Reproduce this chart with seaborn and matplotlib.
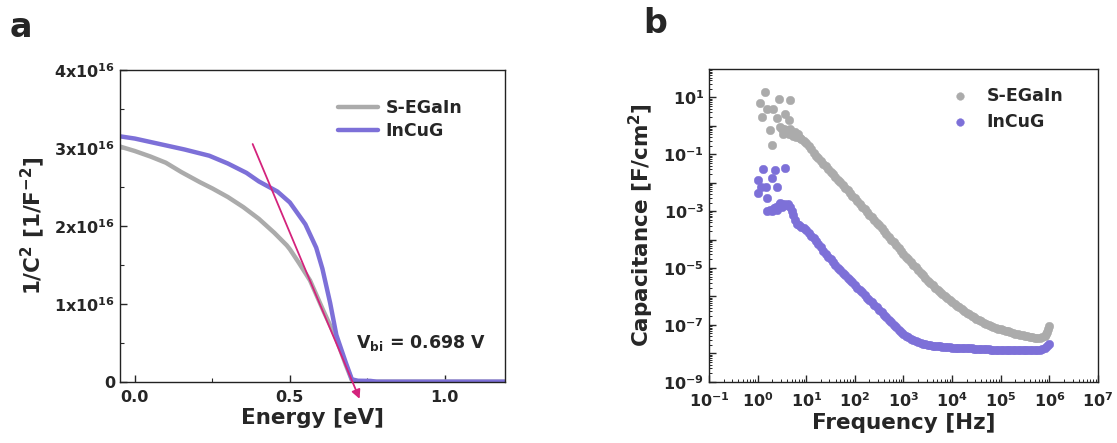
import numpy as np
import pandas as pd
import matplotlib
matplotlib.use("Agg")
import matplotlib.pyplot as plt
import seaborn as sns
from matplotlib.ticker import MultipleLocator, FixedLocator, FuncFormatter, LogLocator, NullFormatter

# ---------------- data: panel a (Mott-Schottky) ----------------
energy_segain = [-0.05, 0.0, 0.05, 0.10, 0.15, 0.21, 0.25, 0.30, 0.35, 0.40, 0.45, 0.49, 0.50,
                 0.53, 0.565, 0.607, 0.65, 0.68, 0.70, 0.72, 0.80, 1.0, 1.2]
invc2_segain = [3.02, 2.96, 2.89, 2.81, 2.69, 2.56, 2.48, 2.37, 2.24, 2.09, 1.91, 1.75, 1.70,
                1.52, 1.30, 0.92, 0.55, 0.22, 0.02, 0.0, 0.0, 0.0, 0.0]
energy_incug = [-0.05, 0.0, 0.08, 0.16, 0.24, 0.30, 0.36, 0.40, 0.46, 0.50, 0.55, 0.585, 0.605,
                0.63, 0.65, 0.68, 0.70, 0.72, 0.76, 0.78, 1.0, 1.2]
invc2_incug = [3.15, 3.12, 3.05, 2.98, 2.90, 2.80, 2.68, 2.57, 2.44, 2.30, 2.02, 1.72, 1.45,
               1.01, 0.60, 0.25, 0.03, 0.012, 0.01, 0.0, 0.0, 0.0]
invc2_scale = 1e16
tangent_x = [0.38, 0.725]
tangent_y = [3.05, -0.22]
vbi_text = r"V$_{\mathregular{bi}}$ = 0.698 V"

# ---------------- data: panel b (C-f), log10 values ----------------
logf_segain = [0.05, 0.09, 0.15, 0.19, 0.32, 0.39, 0.43, 0.56, 0.64, 0.67, 0.26, 0.29,
               0.46, 0.50, 0.52, 0.55, 0.58, 0.62, 0.65, 0.67, 0.70, 0.73, 0.76, 0.78, 0.80, 0.84, 0.87,
               0.90, 0.95, 1.00, 1.05, 1.10, 1.15, 1.20, 1.25, 1.30, 1.35, 1.40, 1.45, 1.50, 1.55,
               1.60, 1.65, 1.70, 1.75, 1.80, 1.85, 1.90, 1.95, 2.00, 2.05, 2.10, 2.15, 2.20, 2.25,
               2.30, 2.35, 2.40, 2.45, 2.50, 2.55, 2.60, 2.65, 2.70, 2.75, 2.80, 2.85, 2.90, 2.95,
               3.00, 3.05, 3.10, 3.15, 3.20, 3.25, 3.30, 3.35, 3.40, 3.45, 3.50, 3.55, 3.60, 3.65,
               3.70, 3.75, 3.80, 3.85, 3.90, 3.95, 4.00, 4.05, 4.10, 4.15, 4.20, 4.25, 4.30, 4.35,
               4.40, 4.45, 4.50, 4.55, 4.60, 4.65, 4.70, 4.75, 4.80, 4.85, 4.90, 4.95, 5.00, 5.05,
               5.10, 5.15, 5.20, 5.25, 5.30, 5.35, 5.40, 5.45, 5.50, 5.55, 5.60, 5.65, 5.70, 5.75,
               5.80, 5.85, 5.90, 5.93, 5.96, 5.98, 6.00]
logc_segain = [0.79, 0.30, 1.19, 0.60, 0.58, 0.28, 0.95, 0.43, 0.20, 0.90, -0.15, -0.66,
               -0.05, -0.12, -0.30, -0.10, -0.22, -0.15, -0.28, -0.12, -0.25, -0.35, -0.20, -0.30, -0.40, -0.30, -0.42,
               -0.45, -0.53, -0.62, -0.72, -0.83, -0.94, -1.05, -1.14, -1.24, -1.33, -1.42, -1.52, -1.61, -1.71,
               -1.80, -1.90, -1.99, -2.09, -2.18, -2.27, -2.36, -2.46, -2.55, -2.65, -2.74, -2.84, -2.93, -3.03,
               -3.12, -3.22, -3.31, -3.41, -3.50, -3.60, -3.70, -3.80, -3.90, -4.00, -4.10, -4.20, -4.30, -4.40,
               -4.50, -4.60, -4.69, -4.79, -4.88, -4.98, -5.07, -5.17, -5.26, -5.36, -5.45, -5.53, -5.61, -5.69,
               -5.76, -5.84, -5.91, -5.98, -6.05, -6.12, -6.20, -6.26, -6.33, -6.39, -6.45, -6.51, -6.57, -6.63,
               -6.69, -6.74, -6.80, -6.84, -6.88, -6.92, -6.96, -7.00, -7.04, -7.07, -7.10, -7.13, -7.15, -7.18,
               -7.21, -7.23, -7.26, -7.28, -7.31, -7.33, -7.35, -7.37, -7.39, -7.41, -7.43, -7.44, -7.45, -7.46,
               -7.46, -7.43, -7.38, -7.32, -7.24, -7.16, -7.04]

logf_incug = [0.12, 0.36, 0.56, 0.015, 0.29, 0.08, 0.17, 0.39, 0.0, 0.19,
              0.20, 0.25, 0.30, 0.33, 0.37, 0.40, 0.44, 0.47, 0.50, 0.55, 0.58, 0.62, 0.66, 0.70, 0.73, 0.77, 0.82,
              0.85, 0.90, 0.95, 1.00, 1.05, 1.10, 1.15, 1.20, 1.25, 1.30,
              1.35, 1.40, 1.45, 1.50, 1.55, 1.60, 1.65, 1.70, 1.75, 1.80,
              1.85, 1.90, 1.95, 2.00, 2.05, 2.10, 2.15, 2.20, 2.25, 2.30,
              2.35, 2.40, 2.45, 2.50, 2.55, 2.60, 2.65, 2.70, 2.75, 2.80,
              2.85, 2.90, 2.95, 3.00, 3.05, 3.10, 3.15, 3.20, 3.25, 3.30,
              3.35, 3.40, 3.45, 3.50, 3.55, 3.60, 3.65, 3.70, 3.75, 3.80,
              3.85, 3.90, 3.95, 4.00, 4.05, 4.10, 4.15, 4.20, 4.25, 4.30,
              4.35, 4.40, 4.45, 4.50, 4.55, 4.60, 4.65, 4.70, 4.75, 4.80,
              4.85, 4.90, 4.95, 5.00, 5.05, 5.10, 5.15, 5.20, 5.25, 5.30,
              5.35, 5.40, 5.45, 5.50, 5.55, 5.60, 5.65, 5.70, 5.75, 5.80,
              5.85, 5.90, 5.95, 6.00]
logc_incug = [-1.53, -1.55, -1.47, -1.90, -1.82, -2.16, -2.14, -2.16, -2.35, -2.55,
              -3.00, -2.95, -2.98, -2.90, -2.85, -2.95, -2.80, -2.72, -2.85, -2.75, -2.80, -2.76, -2.85, -3.00, -3.15, -3.30, -3.45,
              -3.50, -3.55, -3.61, -3.68, -3.77, -3.86, -3.95, -4.05, -4.16, -4.27,
              -4.39, -4.50, -4.60, -4.70, -4.80, -4.90, -4.99, -5.08, -5.16, -5.25,
              -5.34, -5.43, -5.51, -5.60, -5.69, -5.78, -5.86, -5.95, -6.04, -6.13,
              -6.21, -6.30, -6.39, -6.48, -6.56, -6.65, -6.74, -6.83, -6.91, -7.00,
              -7.09, -7.17, -7.25, -7.33, -7.39, -7.44, -7.49, -7.53, -7.57, -7.60,
              -7.63, -7.66, -7.68, -7.70, -7.72, -7.73, -7.74, -7.75, -7.76, -7.77,
              -7.78, -7.79, -7.79, -7.80, -7.80, -7.81, -7.81, -7.82, -7.82, -7.83,
              -7.83, -7.83, -7.84, -7.84, -7.84, -7.85, -7.85, -7.86, -7.86, -7.87,
              -7.87, -7.87, -7.87, -7.88, -7.88, -7.88, -7.88, -7.89, -7.89, -7.89,
              -7.89, -7.90, -7.90, -7.90, -7.90, -7.90, -7.90, -7.89, -7.89, -7.88,
              -7.86, -7.82, -7.76, -7.67]

series_names = ["S-EGaIn", "InCuG"]
col_gray = "#ababab"
col_purple = "#7d70d8"
col_magenta = "#d4237c"

# ---------------- style ----------------
sns.set_style("ticks")
plt.rcParams.update({
    "font.family": ["DejaVu Sans"],
    "font.weight": "bold",
    "axes.labelweight": "bold",
    "mathtext.fontset": "dejavusans",
    "mathtext.default": "bf",
    "xtick.direction": "in",
    "ytick.direction": "in",
    "axes.linewidth": 1.0,
    "axes.edgecolor": "#222222",
})

fig = plt.figure(figsize=(11.17, 4.43), dpi=100)
ax1 = fig.add_axes([0.1074, 0.1384, 0.3447, 0.7036])
ax2 = fig.add_axes([0.6347, 0.1384, 0.3483, 0.7059])

# ---------------- panel a ----------------
df_a1 = pd.DataFrame({"E": energy_segain, "y": np.array(invc2_segain) * invc2_scale})
df_a2 = pd.DataFrame({"E": energy_incug, "y": np.array(invc2_incug) * invc2_scale})
sns.lineplot(data=df_a1, x="E", y="y", ax=ax1, color=col_gray, lw=3.2, label=series_names[0])
sns.lineplot(data=df_a2, x="E", y="y", ax=ax1, color=col_purple, lw=3.2, label=series_names[1])
ax1.annotate("", xy=(tangent_x[1], tangent_y[1] * invc2_scale),
             xytext=(tangent_x[0], tangent_y[0] * invc2_scale),
             arrowprops=dict(arrowstyle="-|>", color=col_magenta, lw=1.3, mutation_scale=13,
                             shrinkA=0, shrinkB=0),
             annotation_clip=False)
ax1.text(0.713, 0.5 * invc2_scale, vbi_text, fontsize=12.5, fontweight="bold", va="center", ha="left")

ax1.set_xlim(-0.048, 1.194)
ax1.set_ylim(0, 4e16)
ax1.xaxis.set_major_locator(FixedLocator([0.0, 0.5, 1.0]))
ax1.xaxis.set_minor_locator(FixedLocator([0.25, 0.75]))
ax1.xaxis.set_major_formatter(FuncFormatter(lambda v, p: f"{v:.1f}"))
ax1.yaxis.set_major_locator(MultipleLocator(1e16))
ax1.yaxis.set_minor_locator(MultipleLocator(0.5e16))
ax1.yaxis.set_major_formatter(FuncFormatter(
    lambda v, p: "0" if abs(v) < 1 else f"{int(round(v / 1e16))}x10$^{{16}}$"))
ax1.set_xlabel("Energy [eV]", fontsize=15.5, labelpad=2)
ax1.set_ylabel(r"1/C$^2$ [1/F$^{-2}$]", fontsize=15.5, labelpad=5)
ax1.tick_params(axis="both", which="major", labelsize=11.5, length=5, width=1)
ax1.tick_params(axis="x", which="major", pad=6)
ax1.tick_params(axis="both", which="minor", length=3, width=0.8)
ax1.legend(frameon=False, loc="upper left", bbox_to_anchor=(0.548, 0.93), borderaxespad=0,
           handlelength=2.3, handletextpad=0.45, labelspacing=0.3,
           prop={"weight": "bold", "size": 12.5})

# ---------------- panel b ----------------
df_b1 = pd.DataFrame({"f": 10.0 ** np.array(logf_segain), "C": 10.0 ** np.array(logc_segain)})
df_b2 = pd.DataFrame({"f": 10.0 ** np.array(logf_incug), "C": 10.0 ** np.array(logc_incug)})
sns.scatterplot(data=df_b1, x="f", y="C", ax=ax2, color=col_gray, s=38, edgecolor=col_gray,
                linewidth=0.3, label=series_names[0], zorder=3)
sns.scatterplot(data=df_b2, x="f", y="C", ax=ax2, color=col_purple, s=38, edgecolor=col_purple,
                linewidth=0.3, label=series_names[1], zorder=3)
ax2.set_xscale("log")
ax2.set_yscale("log")
ax2.set_xlim(1e-1, 1e7)
ax2.set_ylim(1e-9, 1e2)
ax2.xaxis.set_major_locator(FixedLocator(10.0 ** np.arange(-1, 8)))
ax2.xaxis.set_minor_locator(LogLocator(base=10, subs=np.arange(2, 10), numticks=30))
ax2.xaxis.set_major_formatter(FuncFormatter(lambda v, p: f"10$^{{{int(round(np.log10(v)))}}}$"))
ax2.xaxis.set_minor_formatter(NullFormatter())
ax2.yaxis.set_major_locator(FixedLocator(10.0 ** np.arange(-9, 2)))
ax2.yaxis.set_minor_locator(LogLocator(base=10, subs=np.arange(2, 10), numticks=30))


def ylab(v, p):
    e = int(round(np.log10(v)))
    return f"10$^{{{e}}}$" if e % 2 != 0 else ""


ax2.yaxis.set_major_formatter(FuncFormatter(ylab))
ax2.yaxis.set_minor_formatter(NullFormatter())
ax2.set_xlabel("Frequency [Hz]", fontsize=15.5, labelpad=2)
ax2.set_ylabel(r"Capacitance [F/cm$^2$]", fontsize=15.5, labelpad=5)
ax2.tick_params(axis="both", which="major", labelsize=11.5, length=5, width=1)
ax2.tick_params(axis="x", which="major", pad=7)
ax2.tick_params(axis="both", which="minor", length=2.5, width=0.7)
ax2.legend(frameon=False, loc="upper left", bbox_to_anchor=(0.604, 0.965), borderaxespad=0,
           handlelength=1.0, handletextpad=1.05, labelspacing=0.45, markerscale=0.9,
           prop={"weight": "bold", "size": 12.5})

# panel letters
fig.text(0.009, 0.975, "a", fontsize=24, fontweight="bold", va="top", ha="left")
fig.text(0.576, 0.985, "b", fontsize=24, fontweight="bold", va="top", ha="left")

fig.savefig("out.png", dpi=100)
